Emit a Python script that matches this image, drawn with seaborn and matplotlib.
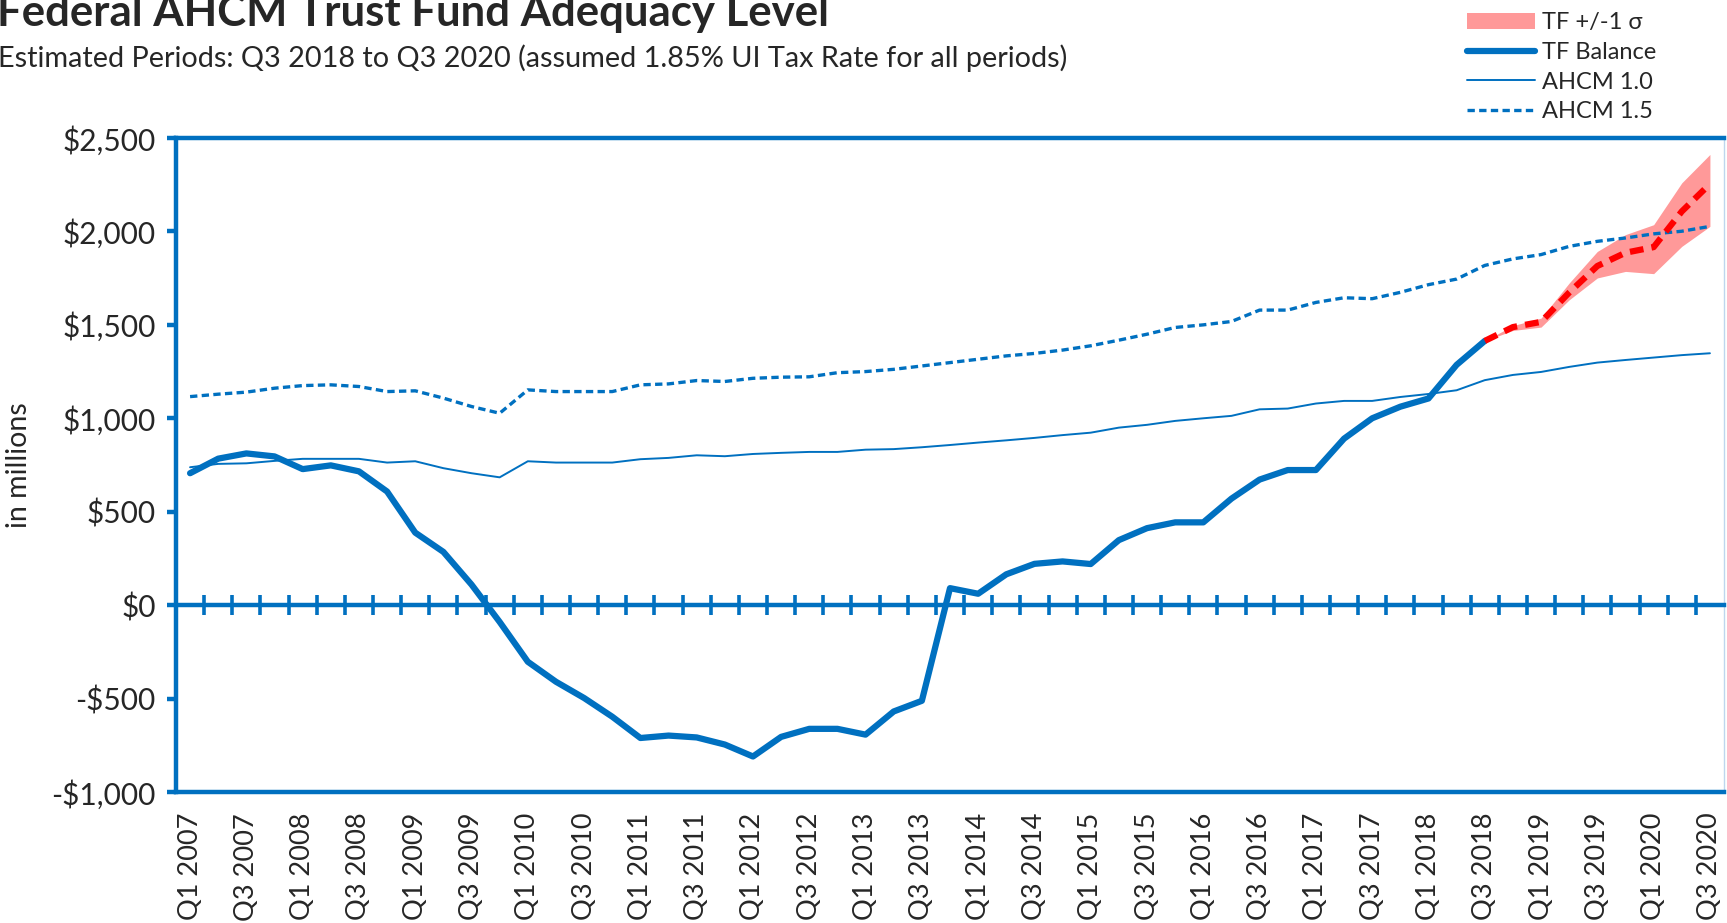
import matplotlib
matplotlib.use("Agg")
import matplotlib.pyplot as plt
from matplotlib.lines import Line2D
from matplotlib.patches import Patch
import numpy as np
import seaborn as sns

# --- Data (quarterly, Q1 2007 .. Q3 2020, $ millions) ---
YEARS = list(range(2007, 2021))
QUARTERS = [f"Q{q} {y}" for y in YEARS for q in (1, 2, 3, 4)][:55]

tf_balance = [706, 784, 812, 796, 728, 748, 716, 608, 388, 285, 110, -90,
              -303, -410, -497, -597, -711, -698, -708, -746, -810, -705,
              -662, -662, -693, -569, -512, 91, 61, 165, 221, 234, 220, 348,
              412, 443, 443, 570, 672, 723, 723, 891, 1000, 1062, 1106, 1286,
              1414]

tf_forecast = [1414, 1488, 1516, 1673, 1815, 1886, 1916, 2107, 2254]
tf_lower = [1414, 1470, 1488, 1634, 1751, 1786, 1774, 1920, 2027]
tf_upper = [1414, 1496, 1536, 1724, 1893, 1983, 2036, 2260, 2412]

ahcm_10 = [738, 756, 759, 772, 783, 783, 783, 763, 770, 733, 706, 684, 770,
           763, 763, 763, 781, 788, 802, 797, 809, 815, 820, 820, 832, 835,
           845, 857, 870, 882, 895, 910, 923, 950, 965, 986, 1000, 1013,
           1048, 1052, 1079, 1093, 1093, 1114, 1130, 1150, 1204, 1232, 1248,
           1275, 1298, 1312, 1325, 1338, 1348]

ahcm_15 = [1116, 1129, 1140, 1161, 1175, 1179, 1170, 1143, 1147, 1108, 1063,
           1027, 1152, 1143, 1143, 1143, 1179, 1184, 1202, 1197, 1214, 1220,
           1222, 1244, 1250, 1262, 1280, 1298, 1316, 1334, 1347, 1365, 1388,
           1418, 1450, 1486, 1500, 1518, 1579, 1579, 1620, 1645, 1640, 1674,
           1715, 1745, 1818, 1853, 1876, 1920, 1947, 1965, 1987, 2001, 2027]

Y_TICKS = [-1000, -500, 0, 500, 1000, 1500, 2000, 2500]
Y_LABELS = ["-$1,000", "-$500", "$0", "$500", "$1,000", "$1,500", "$2,000", "$2,500"]

BLUE = "#0070C0"
RED = "#FF0000"
PINK = "#FF9999"

sns.set_style("white")
plt.rcParams['font.family'] = ['Lato', 'DejaVu Sans']

x_all = np.arange(len(QUARTERS))
x_hist = x_all[:len(tf_balance)]
x_fc = x_all[len(tf_balance) - 1:]

fig = plt.figure(figsize=(17.27, 9.23), dpi=100)
ax = fig.add_axes([176 / 1727, 1 - 792 / 923, (1724 - 176) / 1727, (792 - 138) / 923])

# --- Series ---
ax.fill_between(x_fc, tf_lower, tf_upper, color=PINK, lw=0, zorder=1)
sns.lineplot(x=x_all, y=ahcm_10, ax=ax, color=BLUE, linewidth=1.4, zorder=2)
sns.lineplot(x=x_all, y=ahcm_15, ax=ax, color=BLUE, linewidth=2.4,
             linestyle=(0, (2.2, 1.3)), zorder=2)
sns.lineplot(x=x_hist, y=tf_balance, ax=ax, color=BLUE, linewidth=4.5,
             zorder=3, solid_capstyle='round', solid_joinstyle='round')
sns.lineplot(x=x_fc, y=tf_forecast, ax=ax, color=RED, linewidth=4.5,
             linestyle=(0, (2.2, 1.3)), zorder=4)

ax.set_xlim(-0.5, len(QUARTERS) - 0.5)
ax.set_ylim(-1000, 2500)

# --- Axes styling ---
ax.set_yticks(Y_TICKS)
ax.set_yticklabels(Y_LABELS)
ax.tick_params(axis='y', direction='out', length=6.5, width=3.2, color=BLUE,
               labelsize=21.5, pad=8, left=True)
ax.set_xticks(x_all[::2])
ax.set_xticklabels(QUARTERS[::2], rotation=90)
ax.tick_params(axis='x', length=0, labelsize=19.5, pad=15)
ax.set_ylabel("in millions", fontsize=20.5, labelpad=14)
ax.set_xlabel("")

for side in ('left', 'top', 'bottom'):
    ax.spines[side].set_color(BLUE)
    ax.spines[side].set_linewidth(3.2)
ax.spines['right'].set_color("#BDD7EE")
ax.spines['right'].set_linewidth(1.0)

# zero axis with category tick marks
ax2 = ax.twiny()
ax2.set_xlim(ax.get_xlim())
for side in ('left', 'top', 'right'):
    ax2.spines[side].set_visible(False)
ax2.spines['bottom'].set_position(('data', 0))
ax2.spines['bottom'].set_color(BLUE)
ax2.spines['bottom'].set_linewidth(3.2)
ax2.xaxis.set_ticks_position('bottom')
ax2.set_xticks(x_all[:-1] + 0.5)
ax2.set_xticklabels([])
ax2.tick_params(axis='x', direction='inout', length=15, width=2.6, color=BLUE)

# --- Titles ---
fig.text(-0.002, 1 - 26 / 923, "Federal AHCM Trust Fund Adequacy Level",
         fontsize=31.5, fontweight='bold', va='baseline', ha='left')
fig.text(-0.001, 1 - 67 / 923,
         "Estimated Periods: Q3 2018 to Q3 2020 (assumed 1.85% UI Tax Rate for all periods)",
         fontsize=20.8, va='baseline', ha='left')

# --- Legend ---
handles = [
    Patch(facecolor=PINK, edgecolor='none', label="TF +/-1 \u03c3"),
    Line2D([], [], color=BLUE, lw=4.5, label="TF Balance"),
    Line2D([], [], color=BLUE, lw=1.4, label="AHCM 1.0"),
    Line2D([], [], color=BLUE, lw=2.4, linestyle=(0, (2.2, 1.3)), label="AHCM 1.5"),
]
fig.legend(handles=handles, loc='upper left', bbox_to_anchor=(1462 / 1727, 0.992),
           frameon=False, fontsize=17, handlelength=2.9, handletextpad=0.3,
           labelspacing=0.37, borderaxespad=0, borderpad=0.2)

fig.savefig("out.png", dpi=100)
